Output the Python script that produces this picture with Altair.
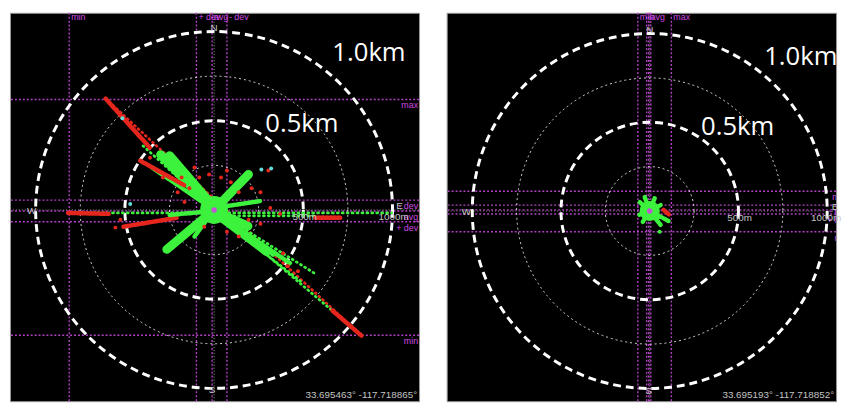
import altair as alt
import pandas as pd

GREEN = "#3cf23c"
RED = "#e5261d"
CYAN = "#62dcdc"
MAGENTA = "#b341c6"
MAG_TXT = "#d04ae4"
GRAY_TXT = "#c4c4c4"
SMALL = "Liberation Sans Narrow, Liberation Sans, sans-serif"

# ---------------- shared: range rings (metres) ----------------
ring_r = [250, 500, 750, 1000]
ring_kind = ["minor", "major", "minor", "major"]
big_text = ["1.0km", "0.5km"]
compass_text = ["N", "S", "W", "E"]
scale_text = ["500m", "1000m"]
fix_domain = ["fix", "nofix", "dgps"]

# ---------------- left receiver ----------------
L_vx = [-812, -99, -11, 72]
L_vname = ["min", "+ dev", "avg", "- dev"]
L_hy = [619, 55, -6, -66, -702]
L_hname = ["max", "- dev", "avg", "+ dev", "min"]

L_tx1 = [-608, -608, 663, 0, 17, 0, 0, 0, -398, -249, -300, -348, -414, -265, 193, 0, 0, 569, 0, -818, -818, -508, -249, -110, 0, 0]
L_ty1 = [624, 624, -564, 0, -11, -22, -11, -11, 359, 304, 310, 238, 276, -221, 199, -17, -33, -44, 11, -17, -17, -94, -28, -149, 0, -6]
L_tx2 = [829, -359, 829, 680, 569, 497, 425, 293, 0, -11, -20, 0, -166, 0, 0, 995, 580, 707, 260, 0, -591, -210, 0, 0, 330, 190]
L_ty2 = [-707, 348, -707, -580, -359, -409, -298, -232, 0, 28, 20, 0, 138, 0, 0, -17, -33, -44, 50, -17, -22, -44, -6, 0, -250, -90]
L_tfix = ["nofix", "nofix", "nofix", "fix", "fix", "fix", "fix", "fix", "fix", "fix", "fix", "fix", "nofix",
          "fix", "fix", "fix", "fix", "nofix", "fix", "fix", "nofix", "nofix", "fix", "fix", "fix", "fix"]
L_tkind = ["dots", "trail", "trail", "dots", "dots", "dots", "trail", "band", "dots", "band", "band", "trail", "trail",
           "band", "band", "dots", "dots", "trail", "trail", "dots", "trail", "trail", "trail", "trail", "trail", "band"]

L_px = [-398, -359, -320, -287, -182, -83, -28, 39, 72, 94, 138, 210, 260, 304, -138, -55, 72, 138, 193, 260,
        315, 370, -110, 470, 414, 387, -525, -553, -166, -204, 320, 265, -470, -514]
L_py = [265, 293, 221, 182, 182, 182, 199, 182, 221, 155, 99, 122, 99, 221, 122, -94, -122, -149, -55, -77,
        11, -22, 238, -343, -315, -243, -55, -99, 44, 99, 232, 227, 33, 514]
L_pfix = ["nofix"] * 30 + ["dgps"] * 4

L_big_x = [663, 287]
L_big_y = [879, 481]
L_comp_x = [0, -11, -1022, 1039]
L_comp_y = [1022, -1011, -6, 22]
L_scale_x = [508, 1006]
L_scale_y = [-39, -39]
L_stamp = "33.695463° -117.718865°"

# ---------------- right receiver ----------------
R_vx = [-67, -17, -6, 6, 122]
R_vname = ["min", "", "avg", "", "max"]
R_hy = [111, 33, 6, -17, -117]
R_hname = ["max", "- dev", "avg", "+ dev", "min"]

R_tx1 = [0, 0, 0, 0, 0, 0, 0, 0, 0, 78]
R_ty1 = [0, 0, 0, 0, 0, 0, 0, 0, 0, 6]
R_tx2 = [-56, -28, 28, 61, -61, -39, 61, 106, 50, 111]
R_ty2 = [50, 78, 72, 33, -22, -61, -78, -56, -33, -22]
R_tfix = ["fix"] * 9 + ["nofix"]
R_tkind = ["trail"] * 10

R_px = [56]
R_py = [-117]
R_pfix = ["fix"]

R_big_x = [645, 289]
R_big_y = [867, 472]
R_comp_x = [0, -6, -1033, 1044]
R_comp_y = [1017, -1017, -6, 22]
R_scale_x = [506, 994]
R_scale_y = [-39, -39]
R_stamp = "33.695193° -117.718852°"


def panel(W, H, xdom, ydom, px_per_km, vx, vname, hy, hname, tx1, ty1, tx2, ty2, tfix, tkind,
          px, py, pfix, blob, big_x, big_y, comp_x, comp_y, scale_x, scale_y, stamp, hlabel_shift):
    xs = alt.Scale(domain=xdom, nice=False, zero=False)
    ys = alt.Scale(domain=ydom, nice=False, zero=False)

    def X(f):
        return alt.X(f, type="quantitative", scale=xs, axis=None)

    def Y(f):
        return alt.Y(f, type="quantitative", scale=ys, axis=None)

    col = alt.Color("fix:N", scale=alt.Scale(domain=fix_domain, range=[GREEN, RED, CYAN]), legend=None)
    layers = []

    cross = pd.DataFrame({"v": [0]})
    layers.append(alt.Chart(cross).mark_rule(color="#9a9a9a", strokeDash=[1, 2], strokeWidth=1).encode(x=X("v")))
    layers.append(alt.Chart(cross).mark_rule(color="#9a9a9a", strokeDash=[1, 2], strokeWidth=1).encode(y=Y("v")))

    vdf = pd.DataFrame({"x": vx, "name": vname})
    hdf = pd.DataFrame({"y": hy, "name": hname})
    layers.append(alt.Chart(vdf).mark_rule(color=MAGENTA, strokeDash=[2, 2], strokeWidth=1.4).encode(x=X("x")))
    layers.append(alt.Chart(hdf).mark_rule(color=MAGENTA, strokeDash=[2, 2], strokeWidth=1.4).encode(y=Y("y")))

    rdf = pd.DataFrame({"r": ring_r, "kind": ring_kind, "cx": [0] * 4, "cy": [0] * 4})
    sz = alt.Size("r:Q", scale=alt.Scale(type="pow", exponent=2, domain=[0, 1000],
                                         range=[0, 4 * px_per_km ** 2]), legend=None)
    layers.append(alt.Chart(rdf).transform_filter(alt.datum.kind == "minor").mark_point(
        shape="circle", filled=False, color="white", strokeWidth=1, strokeDash=[2, 3], opacity=0.85
    ).encode(x=X("cx"), y=Y("cy"), size=sz))
    layers.append(alt.Chart(rdf).transform_filter(alt.datum.kind == "major").mark_point(
        shape="circle", filled=False, color="white", strokeWidth=3, strokeDash=[8, 5], opacity=1
    ).encode(x=X("cx"), y=Y("cy"), size=sz))

    tdf = pd.DataFrame({"x1": tx1, "y1": ty1, "x2": tx2, "y2": ty2, "fix": tfix, "kind": tkind})
    styles = {"dots": dict(strokeWidth=2.8, strokeDash=[1, 4]),
              "band": dict(strokeWidth=9),
              "trail": dict(strokeWidth=4.5, strokeDash=[3, 1])}
    for k in ["dots", "band", "trail"]:
        layers.append(alt.Chart(tdf).transform_filter(alt.datum.kind == k).mark_rule(
            strokeCap="round", opacity=1, **styles[k]
        ).encode(x=X("x1"), y=Y("y1"), x2=alt.X2("x2"), y2=alt.Y2("y2"), color=col))

    pdf = pd.DataFrame({"x": px, "y": py, "fix": pfix})
    layers.append(alt.Chart(pdf).mark_circle(size=16, opacity=1).encode(x=X("x"), y=Y("y"), color=col))

    c0 = pd.DataFrame({"x": [0], "y": [0]})
    layers.append(alt.Chart(c0).mark_circle(size=blob, opacity=1, color=GREEN).encode(x=X("x"), y=Y("y")))
    layers.append(alt.Chart(c0).mark_circle(size=30, opacity=1, color="#c455d8").encode(x=X("x"), y=Y("y")))

    # stat line labels
    layers.append(alt.Chart(vdf).mark_text(color=MAG_TXT, font=SMALL, fontSize=9, align="left",
                                           baseline="top", dx=2).encode(x=X("x"), y=alt.value(0), text="name:N"))
    layers.append(alt.Chart(hdf).mark_text(color=MAG_TXT, font=SMALL, fontSize=9, align="right",
                                           baseline="top", dy=2, clip=True).encode(
        x=alt.value(W - 1 + hlabel_shift), y=Y("y"), text="name:N"))

    cdf = pd.DataFrame({"x": comp_x, "y": comp_y, "t": compass_text})
    layers.append(alt.Chart(cdf).mark_text(color=GRAY_TXT, font=SMALL, fontSize=10, align="center",
                                           baseline="middle").encode(x=X("x"), y=Y("y"), text="t:N"))
    sdf = pd.DataFrame({"x": scale_x, "y": scale_y, "t": scale_text})
    layers.append(alt.Chart(sdf).mark_text(color=GRAY_TXT, font=SMALL, fontSize=10, align="center",
                                           baseline="middle").encode(x=X("x"), y=Y("y"), text="t:N"))
    bdf = pd.DataFrame({"x": big_x, "y": big_y, "t": big_text})
    layers.append(alt.Chart(bdf).mark_text(color="white", font="Open Sans", fontSize=26, align="left",
                                           baseline="middle").encode(x=X("x"), y=Y("y"), text="t:N"))
    stdf = pd.DataFrame({"t": [stamp]})
    layers.append(alt.Chart(stdf).mark_text(color=GRAY_TXT, font=SMALL, fontSize=10, align="right",
                                            baseline="bottom").encode(x=alt.value(W - 2), y=alt.value(H - 1), text="t:N"))

    return alt.layer(*layers).properties(width=W, height=H)


left = panel(415, 394, [-1144, 1149], [-1072, 1105], 181.0,
             L_vx, L_vname, L_hy, L_hname, L_tx1, L_ty1, L_tx2, L_ty2, L_tfix, L_tkind,
             L_px, L_py, L_pfix, 800, L_big_x, L_big_y, L_comp_x, L_comp_y, L_scale_x, L_scale_y, L_stamp, 0)
right = panel(395, 394, [-1144, 1050], [-1072, 1117], 180.0,
              R_vx, R_vname, R_hy, R_hname, R_tx1, R_ty1, R_tx2, R_ty2, R_tfix, R_tkind,
              R_px, R_py, R_pfix, 420, R_big_x, R_big_y, R_comp_x, R_comp_y, R_scale_x, R_scale_y, R_stamp, 14)

chart = alt.hconcat(left, right, spacing=24).resolve_scale(
    x="independent", y="independent", size="independent", color="independent"
).properties(
    padding=0, background="white"
).configure_view(fill="black", stroke="#9a9a9a", strokeWidth=1)

chart.save("out.html", embed_options={"renderer": "svg", "actions": False})
